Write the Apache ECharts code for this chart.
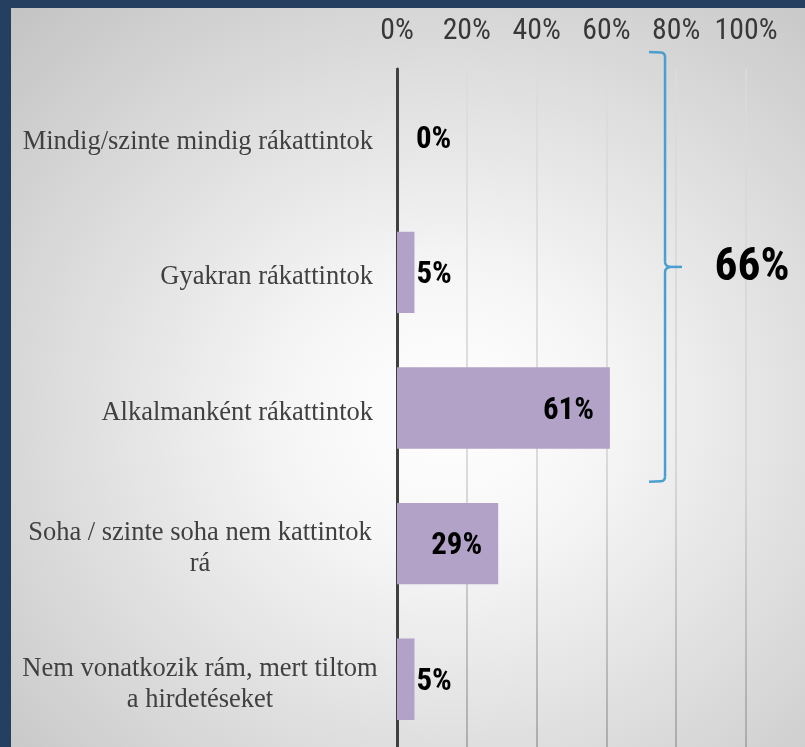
<!DOCTYPE html>
<html><head><meta charset="utf-8">
<script src="https://cdn.jsdelivr.net/npm/echarts@6/dist/echarts.min.js"></script>
<style>
html,body{margin:0;padding:0;width:805px;height:747px;overflow:hidden;background:#243F60;}
#bg{position:absolute;left:11px;top:8px;width:794px;height:739px;background:radial-gradient(ellipse 620px 560px at 55% 55%, #ffffff 0%, #f6f6f6 25%, #c4c4c4 100%);}
#chart{position:absolute;left:0;top:0;width:805px;height:747px;}
</style></head><body><div id="bg"></div><div id="chart"></div>
<script>
const categories = [
  'Mindig/szinte mindig rákattintok',
  'Gyakran rákattintok',
  'Alkalmanként rákattintok',
  'Soha / szinte soha nem kattintok\nrá',
  'Nem vonatkozik rám, mert tiltom\na hirdetéseket'
];
const values = [0, 5, 61, 29, 5];
const tickLabels = ['0%', '20%', '40%', '60%', '80%', '100%'];
const bracketCategories = [0, 1, 2];
const bracketLabel = '66%';

// pick a narrow sans font if one is installed
const ctx = document.createElement('canvas').getContext('2d');
function hasFont(name) {
  const t = '100% Mmwwii';
  ctx.font = '40px monospace';
  const a = ctx.measureText(t).width;
  ctx.font = '40px "' + name + '", monospace';
  return Math.abs(ctx.measureText(t).width - a) > 0.5;
}
const narrowCandidates = ['Liberation Sans Narrow', 'Arial Narrow', 'Roboto Condensed', 'Noto Sans Condensed', 'Open Sans Condensed', 'DejaVu Sans Condensed', 'Liberation Sans'];
let NARROW_NAME = 'Liberation Sans';
for (const n of narrowCandidates) { if (hasFont(n)) { NARROW_NAME = n; break; } }
const NARROW = '"' + NARROW_NAME + '", sans-serif';
function fitSize(text, weight, targetW, maxSize) {
  ctx.font = weight + ' 100px ' + NARROW;
  const w = ctx.measureText(text).width / 100;
  return Math.min(maxSize, targetW / w);
}
const tickSize = fitSize('100%', 'normal', 63, 31);
const dataSize = fitSize('61%', 'bold', 51, 32);
const bigSize = fitSize('66%', 'bold', 75, 46);

const SERIF = '"Liberation Serif", "Times New Roman", serif';

const chart = echarts.init(document.getElementById('chart'), null, {renderer: 'canvas'});

const seriesData = values.map(v => ({
  value: v,
  label: v >= 20
    ? {position: 'insideRight', distance: 16}
    : {position: 'right', distance: v === 0 ? 19 : 2}
}));

chart.setOption({
  backgroundColor: 'transparent',
  animation: false,
  grid: {left: 397, right: 59, top: 69, bottom: -1},
  xAxis: {
    type: 'value', position: 'top', min: 0, max: 100, interval: 20,
    axisLine: {show: false}, axisTick: {show: false},
    splitLine: {show: true, lineStyle: {
      color: new echarts.graphic.LinearGradient(0, 0, 0, 1, [
        {offset: 0, color: '#DCDCDC'}, {offset: 0.6, color: '#CFCFCF'}, {offset: 1, color: '#9C9C9C'}
      ]),
      width: 1.5
    }},
    axisLabel: {
      formatter: v => tickLabels[Math.round(v / 20)],
      showMinLabel: true, showMaxLabel: true, hideOverlap: false,
      fontFamily: NARROW, fontSize: tickSize, color: '#383838', margin: 22
    }
  },
  yAxis: {
    type: 'category', inverse: true, data: categories,
    axisLine: {show: true, lineStyle: {color: '#404040', width: 3}},
    axisTick: {show: false},
    axisLabel: {
      margin: 24, align: 'right', padding: [10, 0, 0, 0],
      formatter: v => v.indexOf('\n') >= 0
        ? v.split('\n').map(l => '{c|' + l + '}').join('\n')
        : '{r|' + v + '}',
      rich: {
        c: {width: 346, align: 'center', fontFamily: SERIF, fontSize: 26.5, color: '#404040', lineHeight: 31},
        r: {width: 360, align: 'right', fontFamily: SERIF, fontSize: 26.5, color: '#404040', lineHeight: 31}
      }
    }
  },
  series: [{
    type: 'bar', data: seriesData, barCategoryGap: '40%',
    itemStyle: {color: '#B3A2C7'},
    label: {
      show: true, formatter: '{c}%', offset: [0, 3],
      fontFamily: NARROW, fontWeight: 'bold', fontSize: dataSize, color: '#000000'
    }
  }]
});

// Bracket annotation derived from axis positions
const c0 = chart.convertToPixel({yAxisIndex: 0}, bracketCategories[0]);
const c1 = chart.convertToPixel({yAxisIndex: 0}, bracketCategories[1]);
const cN = chart.convertToPixel({yAxisIndex: 0}, bracketCategories[bracketCategories.length - 1]);
const band = c1 - c0;
const yT = c0 - band / 2 - 17;
const yB = cN + band / 2 + 6;
const yM = (yT + yB) / 2;
const xV = chart.convertToPixel({xAxisIndex: 0}, 76.8);
const bs = {stroke: '#4A9FD0', lineWidth: 2.5, fill: null};
function seg(x1, y1, x2, y2) { return {type: 'line', shape: {x1, y1, x2, y2}, style: bs, z: 10}; }
function curve(x1, y1, cx, cy, x2, y2) { return {type: 'bezierCurve', shape: {x1, y1, x2, y2, cpx1: cx, cpy1: cy}, style: bs, z: 10}; }

chart.setOption({
  graphic: [
    seg(xV - 16, yT, xV - 4, yT + 0.5),
    curve(xV - 4, yT + 0.5, xV, yT + 1, xV, yT + 5),
    seg(xV, yT + 5, xV, yM - 5),
    curve(xV, yM - 5, xV, yM - 1, xV + 5, yM),
    seg(xV + 5, yM, xV + 17, yM),
    curve(xV + 5, yM, xV, yM + 1, xV, yM + 5),
    seg(xV, yM + 5, xV, yB - 5),
    curve(xV, yB - 5, xV, yB - 1, xV - 4, yB - 0.5),
    seg(xV - 4, yB - 0.5, xV - 16, yB),
    {type: 'text', x: xV + 87, y: yM + 2, style: {
      text: bracketLabel, font: 'bold ' + bigSize + 'px ' + NARROW, fill: '#000000',
      textAlign: 'center', textVerticalAlign: 'middle'
    }, z: 10}
  ]
});
</script></body></html>
